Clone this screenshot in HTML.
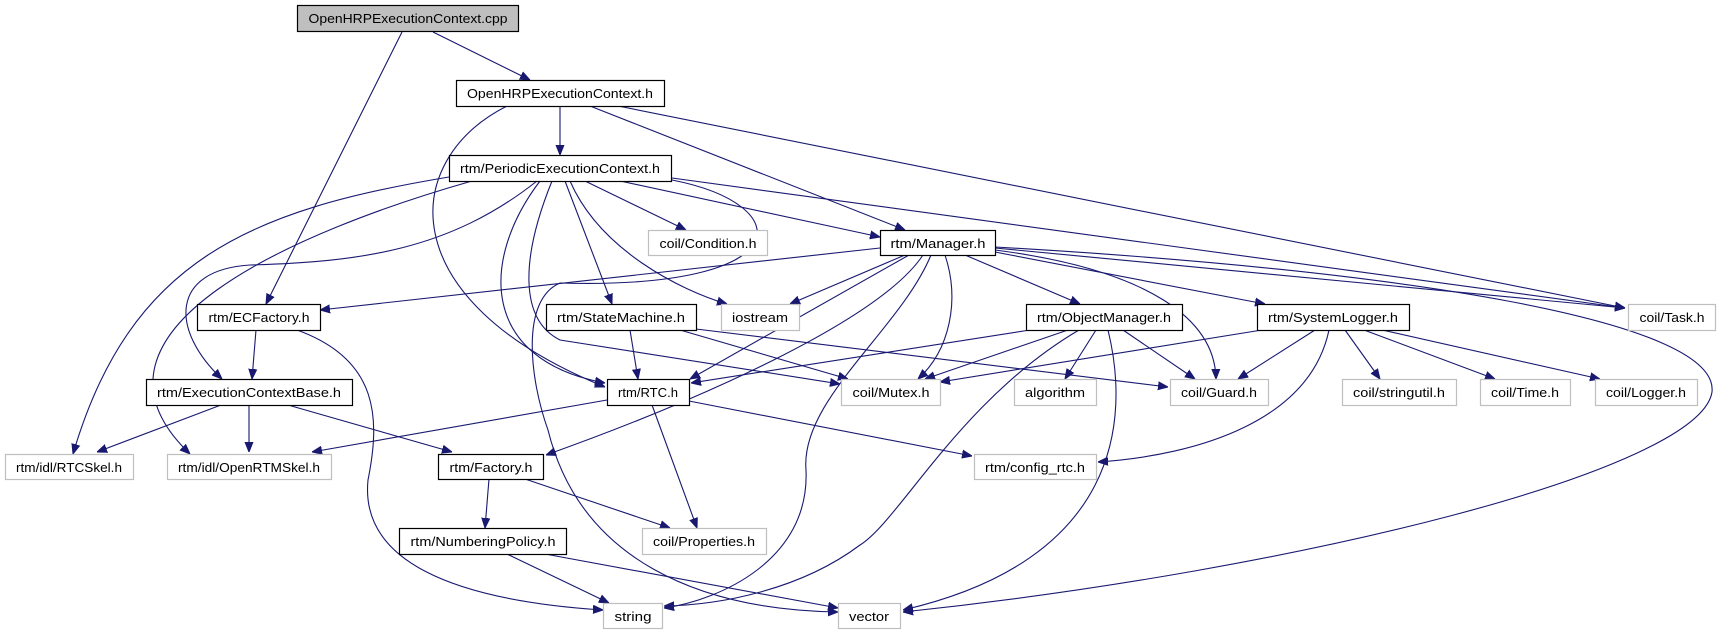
<!DOCTYPE html>
<html><head><meta charset="utf-8"><style>
html,body{margin:0;padding:0;background:#fff;}
svg{display:block;}
text{font-family:"Liberation Sans",sans-serif;font-size:13px;fill:#000;}
.e{fill:none;stroke:#191970;stroke-width:1.1;marker-end:url(#a);}
.b{fill:#fff;stroke:#000;stroke-width:1.2;}
.g{fill:#fff;stroke:#bfbfbf;stroke-width:1.2;}
</style></head><body>
<svg width="1725" height="635" viewBox="0 0 1725 635" xmlns="http://www.w3.org/2000/svg">
<defs><marker id="a" viewBox="0 0 10 10" refX="10" refY="5" markerWidth="10" markerHeight="10" markerUnits="userSpaceOnUse" orient="auto"><path d="M0,1 L10,5 L0,9 z" fill="#191970" stroke="#191970"/></marker></defs>

<!-- edges -->
<path class="e" d="M433,32 L530,80"/>
<path class="e" d="M402,32 L266,304"/>
<path class="e" d="M560,106 L560,155"/>
<path class="e" d="M507,106 C400,160 390,300 605,387"/>
<path class="e" d="M590,106 L905,230"/>
<path class="e" d="M618,106 L1625,308"/>

<path class="e" d="M449,177 C250,210 130,260 73,454"/>
<path class="e" d="M472,181 C300,230 60,330 190,454"/>
<path class="e" d="M537,181 C450,250 360,262 250,265 C170,270 170,330 222,379"/>
<path class="e" d="M540,181 C480,260 480,360 605,383"/>
<path class="e" d="M552,181 C520,260 520,320 560,340 L840,384"/>
<path class="e" d="M565,181 L612,304"/>
<path class="e" d="M570,181 C600,250 680,290 727,304"/>
<path class="e" d="M585,181 L686,230"/>
<path class="e" d="M620,181 L880,237"/>
<path class="e" d="M672,178 L1625,308"/>
<path class="e" d="M672,180 C800,205 800,290 560,283 C520,300 530,380 548,430 C580,560 700,610 838,612"/>

<path class="e" d="M880,248 L320,310"/>
<path class="e" d="M905,255 L790,304"/>
<path class="e" d="M909,255 L690,379"/>
<path class="e" d="M923,255 C880,320 700,400 546,455"/>
<path class="e" d="M931,255 C900,330 800,400 806,470 C810,560 720,600 664,608"/>
<path class="e" d="M945,255 C960,300 950,350 918,379"/>
<path class="e" d="M965,255 L1080,304"/>
<path class="e" d="M995,252 L1265,304"/>
<path class="e" d="M995,250 C1150,270 1215,320 1216,379"/>
<path class="e" d="M995,248 L1625,308"/>
<path class="e" d="M995,247 C1400,270 1720,320 1712,392 C1700,470 1300,570 903,612"/>

<path class="e" d="M630,330 L638,379"/>
<path class="e" d="M680,330 L848,379"/>
<path class="e" d="M696,329 L1168,387"/>

<path class="e" d="M607,400 L312,452"/>
<path class="e" d="M652,405 L697,528"/>
<path class="e" d="M689,401 L972,456"/>

<path class="e" d="M256,330 L252,379"/>
<path class="e" d="M297,330 C380,360 380,420 368,480 C360,560 450,600 603,610"/>

<path class="e" d="M221,405 L97,452"/>
<path class="e" d="M249,405 L249,452"/>
<path class="e" d="M288,405 L452,452"/>

<path class="e" d="M489,479 L485,528"/>
<path class="e" d="M525,479 L670,528"/>
<path class="e" d="M507,554 L609,603"/>
<path class="e" d="M545,554 L838,608"/>

<path class="e" d="M1030,330 L691,383"/>
<path class="e" d="M1068,330 L925,379"/>
<path class="e" d="M1096,330 L1065,379"/>
<path class="e" d="M1123,330 L1195,379"/>
<path class="e" d="M1079,330 C960,400 900,520 860,545 C800,590 720,605 664,606"/>
<path class="e" d="M1108,330 C1130,420 1120,560 903,610"/>

<path class="e" d="M1262,330 L940,382"/>
<path class="e" d="M1315,330 L1238,379"/>
<path class="e" d="M1329,330 C1310,420 1200,455 1098,462"/>
<path class="e" d="M1345,330 L1380,379"/>
<path class="e" d="M1364,330 L1495,379"/>
<path class="e" d="M1382,330 L1600,379"/>

<!-- nodes -->
<rect x="297.5" y="5.5" width="221" height="26" fill="#bfbfbf" stroke="#000" stroke-width="1.2"/>
<text x="408" y="23" text-anchor="middle" textLength="199" lengthAdjust="spacingAndGlyphs">OpenHRPExecutionContext.cpp</text>

<rect class="b" x="456.5" y="80.5" width="208" height="26"/><text x="560" y="98" text-anchor="middle" textLength="186" lengthAdjust="spacingAndGlyphs">OpenHRPExecutionContext.h</text>
<rect class="b" x="449.5" y="155.5" width="222" height="26"/><text x="560" y="173" text-anchor="middle" textLength="200" lengthAdjust="spacingAndGlyphs">rtm/PeriodicExecutionContext.h</text>
<rect class="b" x="880.5" y="230.5" width="115" height="25"/><text x="938" y="248" text-anchor="middle" textLength="95" lengthAdjust="spacingAndGlyphs">rtm/Manager.h</text>
<rect class="g" x="648.5" y="230.5" width="119" height="25"/><text x="708" y="248" text-anchor="middle" textLength="97" lengthAdjust="spacingAndGlyphs">coil/Condition.h</text>

<rect class="b" x="197.5" y="304.5" width="123" height="26"/><text x="259" y="322" text-anchor="middle" textLength="101" lengthAdjust="spacingAndGlyphs">rtm/ECFactory.h</text>
<rect class="b" x="546.5" y="304.5" width="150" height="26"/><text x="621" y="322" text-anchor="middle" textLength="128" lengthAdjust="spacingAndGlyphs">rtm/StateMachine.h</text>
<rect class="g" x="721.5" y="304.5" width="78" height="26"/><text x="760" y="322" text-anchor="middle" textLength="56" lengthAdjust="spacingAndGlyphs">iostream</text>
<rect class="b" x="1026.5" y="304.5" width="156" height="26"/><text x="1104" y="322" text-anchor="middle" textLength="134" lengthAdjust="spacingAndGlyphs">rtm/ObjectManager.h</text>
<rect class="b" x="1257.5" y="304.5" width="152" height="26"/><text x="1333" y="322" text-anchor="middle" textLength="130" lengthAdjust="spacingAndGlyphs">rtm/SystemLogger.h</text>
<rect class="g" x="1628.5" y="304.5" width="87" height="26"/><text x="1672" y="322" text-anchor="middle" textLength="65" lengthAdjust="spacingAndGlyphs">coil/Task.h</text>

<rect class="b" x="146.5" y="379.5" width="206" height="26"/><text x="249" y="397" text-anchor="middle" textLength="184" lengthAdjust="spacingAndGlyphs">rtm/ExecutionContextBase.h</text>
<rect class="b" x="607.5" y="379.5" width="82" height="26"/><text x="648" y="397" text-anchor="middle" textLength="60" lengthAdjust="spacingAndGlyphs">rtm/RTC.h</text>
<rect class="g" x="841.5" y="379.5" width="99" height="26"/><text x="891" y="397" text-anchor="middle" textLength="77" lengthAdjust="spacingAndGlyphs">coil/Mutex.h</text>
<rect class="g" x="1014.5" y="379.5" width="82" height="26"/><text x="1055" y="397" text-anchor="middle" textLength="60" lengthAdjust="spacingAndGlyphs">algorithm</text>
<rect class="g" x="1170.5" y="379.5" width="98" height="26"/><text x="1219" y="397" text-anchor="middle" textLength="76" lengthAdjust="spacingAndGlyphs">coil/Guard.h</text>
<rect class="g" x="1342.5" y="379.5" width="114" height="26"/><text x="1399" y="397" text-anchor="middle" textLength="92" lengthAdjust="spacingAndGlyphs">coil/stringutil.h</text>
<rect class="g" x="1480.5" y="379.5" width="90" height="26"/><text x="1525" y="397" text-anchor="middle" textLength="68" lengthAdjust="spacingAndGlyphs">coil/Time.h</text>
<rect class="g" x="1595.5" y="379.5" width="102" height="26"/><text x="1646" y="397" text-anchor="middle" textLength="80" lengthAdjust="spacingAndGlyphs">coil/Logger.h</text>

<rect class="g" x="5.5" y="454.5" width="128" height="25"/><text x="69" y="472" text-anchor="middle" textLength="106" lengthAdjust="spacingAndGlyphs">rtm/idl/RTCSkel.h</text>
<rect class="g" x="167.5" y="454.5" width="164" height="25"/><text x="249" y="472" text-anchor="middle" textLength="142" lengthAdjust="spacingAndGlyphs">rtm/idl/OpenRTMSkel.h</text>
<rect class="b" x="438.5" y="454.5" width="105" height="25"/><text x="491" y="472" text-anchor="middle" textLength="83" lengthAdjust="spacingAndGlyphs">rtm/Factory.h</text>
<rect class="g" x="974.5" y="454.5" width="122" height="25"/><text x="1035" y="472" text-anchor="middle" textLength="100" lengthAdjust="spacingAndGlyphs">rtm/config_rtc.h</text>

<rect class="b" x="399.5" y="528.5" width="167" height="26"/><text x="483" y="546" text-anchor="middle" textLength="145" lengthAdjust="spacingAndGlyphs">rtm/NumberingPolicy.h</text>
<rect class="g" x="642.5" y="528.5" width="124" height="26"/><text x="704" y="546" text-anchor="middle" textLength="102" lengthAdjust="spacingAndGlyphs">coil/Properties.h</text>

<rect class="g" x="603.5" y="603.5" width="59" height="25"/><text x="633" y="621" text-anchor="middle" textLength="37" lengthAdjust="spacingAndGlyphs">string</text>
<rect class="g" x="838.5" y="603.5" width="62" height="25"/><text x="869" y="621" text-anchor="middle" textLength="40" lengthAdjust="spacingAndGlyphs">vector</text>
</svg>
</body></html>
